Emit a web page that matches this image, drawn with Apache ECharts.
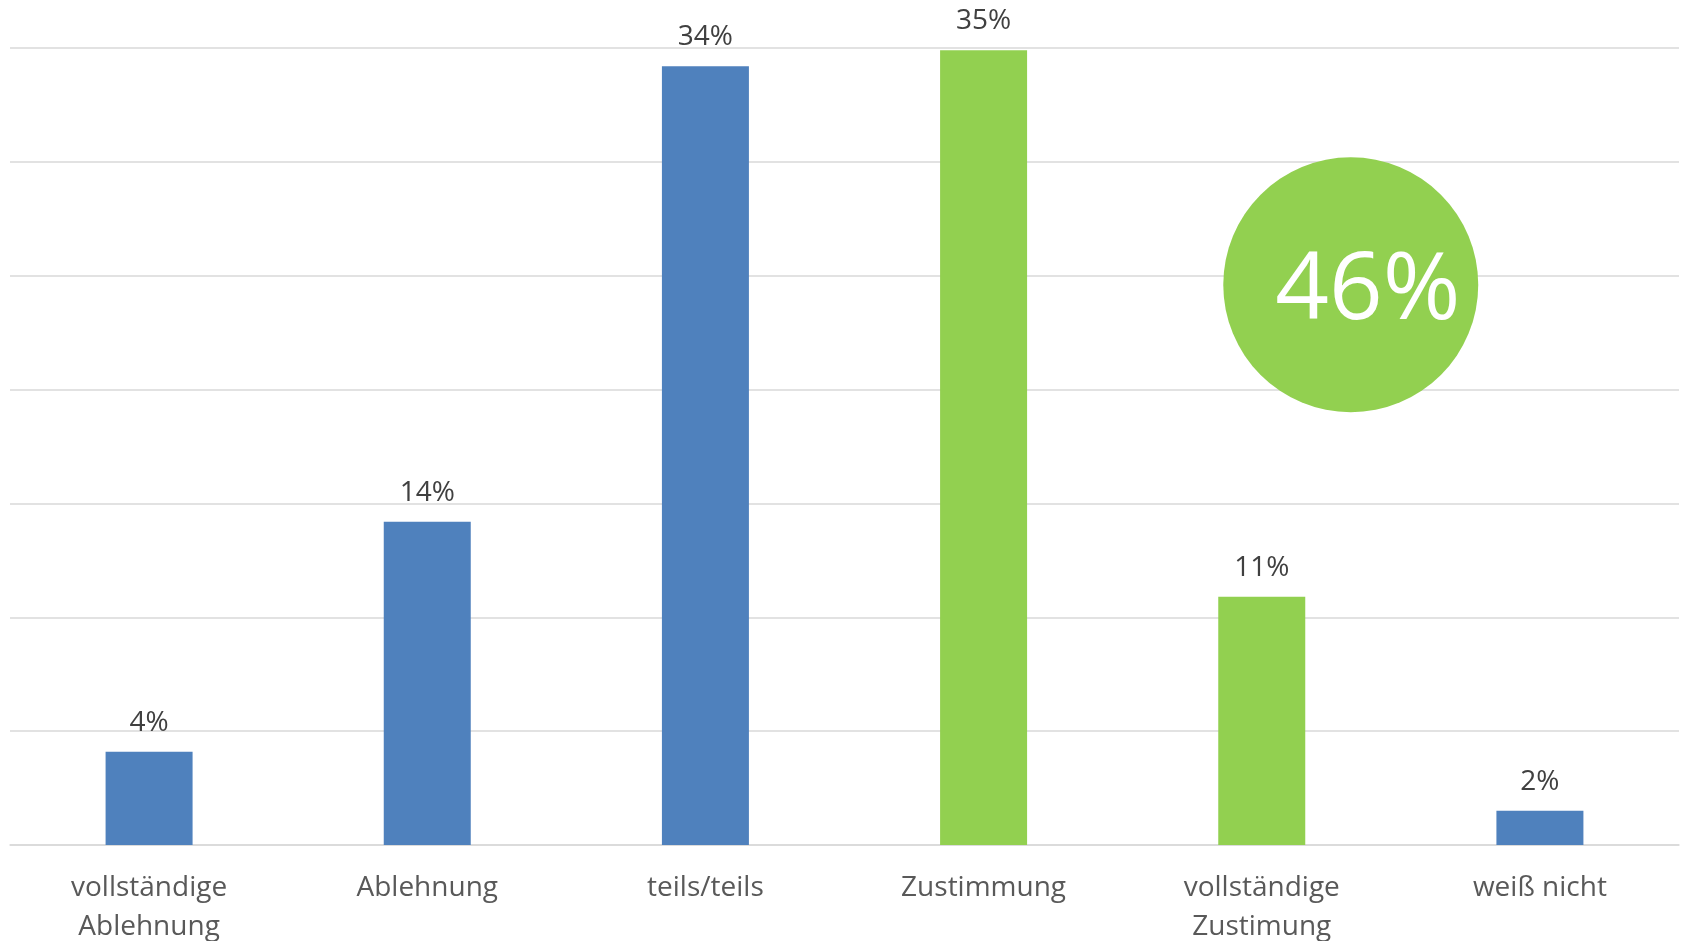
<!DOCTYPE html>
<html>
<head>
<meta charset="utf-8">
<script src="https://cdn.jsdelivr.net/npm/echarts@6/dist/echarts.min.js"></script>
<style>
  html, body { margin: 0; padding: 0; background: #fff; }
  #chart { width: 1683px; height: 941px; }
</style>
</head>
<body>
<div id="chart"></div>
<script>
// categories and shares (percent)
const categories = [
  'vollständige\nAblehnung',
  'Ablehnung',
  'teils/teils',
  'Zustimmung',
  'vollständige\nZustimung',
  'weiß nicht',
];
const shares = [4.1, 14.2, 34.2, 34.9, 10.9, 1.5];
// categories counted as agreement (green bars, summed in the circle)
const agreement = ['Zustimmung', 'vollständige\nZustimung'];
const yTicks = [0, 5, 10, 15, 20, 25, 30, 35];

const BLUE = '#4f81bd';
const GREEN = '#92d050';
const FONT = '"Open Sans", "DejaVu Sans", sans-serif';

const agreeTotal = Math.round(
  categories.reduce((sum, c, i) => (agreement.includes(c) ? sum + shares[i] : sum), 0)
);

const chart = echarts.init(document.getElementById('chart'));

chart.setOption({
  animation: false,
  grid: { left: 10, right: 4, top: 48, bottom: 96, containLabel: false, outerBoundsMode: 'none' },
  xAxis: {
    type: 'category',
    data: categories,
    axisTick: { show: false },
    axisLine: { lineStyle: { color: '#d9d9d9', width: 1.5 } },
    axisLabel: {
      interval: 0,
      margin: 24,
      color: '#595959',
      fontFamily: FONT,
      fontSize: 28,
      lineHeight: 39,
    },
  },
  yAxis: {
    type: 'value',
    min: yTicks[0],
    max: yTicks[yTicks.length - 1],
    interval: yTicks[1] - yTicks[0],
    axisLabel: { show: false },
    axisLine: { show: false },
    axisTick: { show: false },
    splitLine: { lineStyle: { color: '#d9d9d9', width: 1.5 } },
  },
  series: [
    {
      type: 'bar',
      barWidth: 87,
      data: shares.map((v, i) => ({
        value: v,
        itemStyle: { color: agreement.includes(categories[i]) ? GREEN : BLUE },
      })),
      label: {
        show: true,
        position: 'top',
        distance: 15,
        color: '#404040',
        fontFamily: FONT,
        fontSize: 28,
        lineHeight: 28,
        formatter: (p) => Math.round(p.value) + '%',
      },
      markPoint: {
        silent: true,
        symbol: 'circle',
        symbolSize: 255,
        symbolOffset: [89, 0],
        itemStyle: { color: GREEN },
        label: {
          show: true,
          position: 'inside',
          offset: [17, 7],
          color: '#fff',
          fontFamily: FONT,
          fontSize: 94,
          formatter: agreeTotal + '%',
        },
        data: [{ coord: [4, 24.6] }],
      },
    },
  ],
});
</script>
</body>
</html>
